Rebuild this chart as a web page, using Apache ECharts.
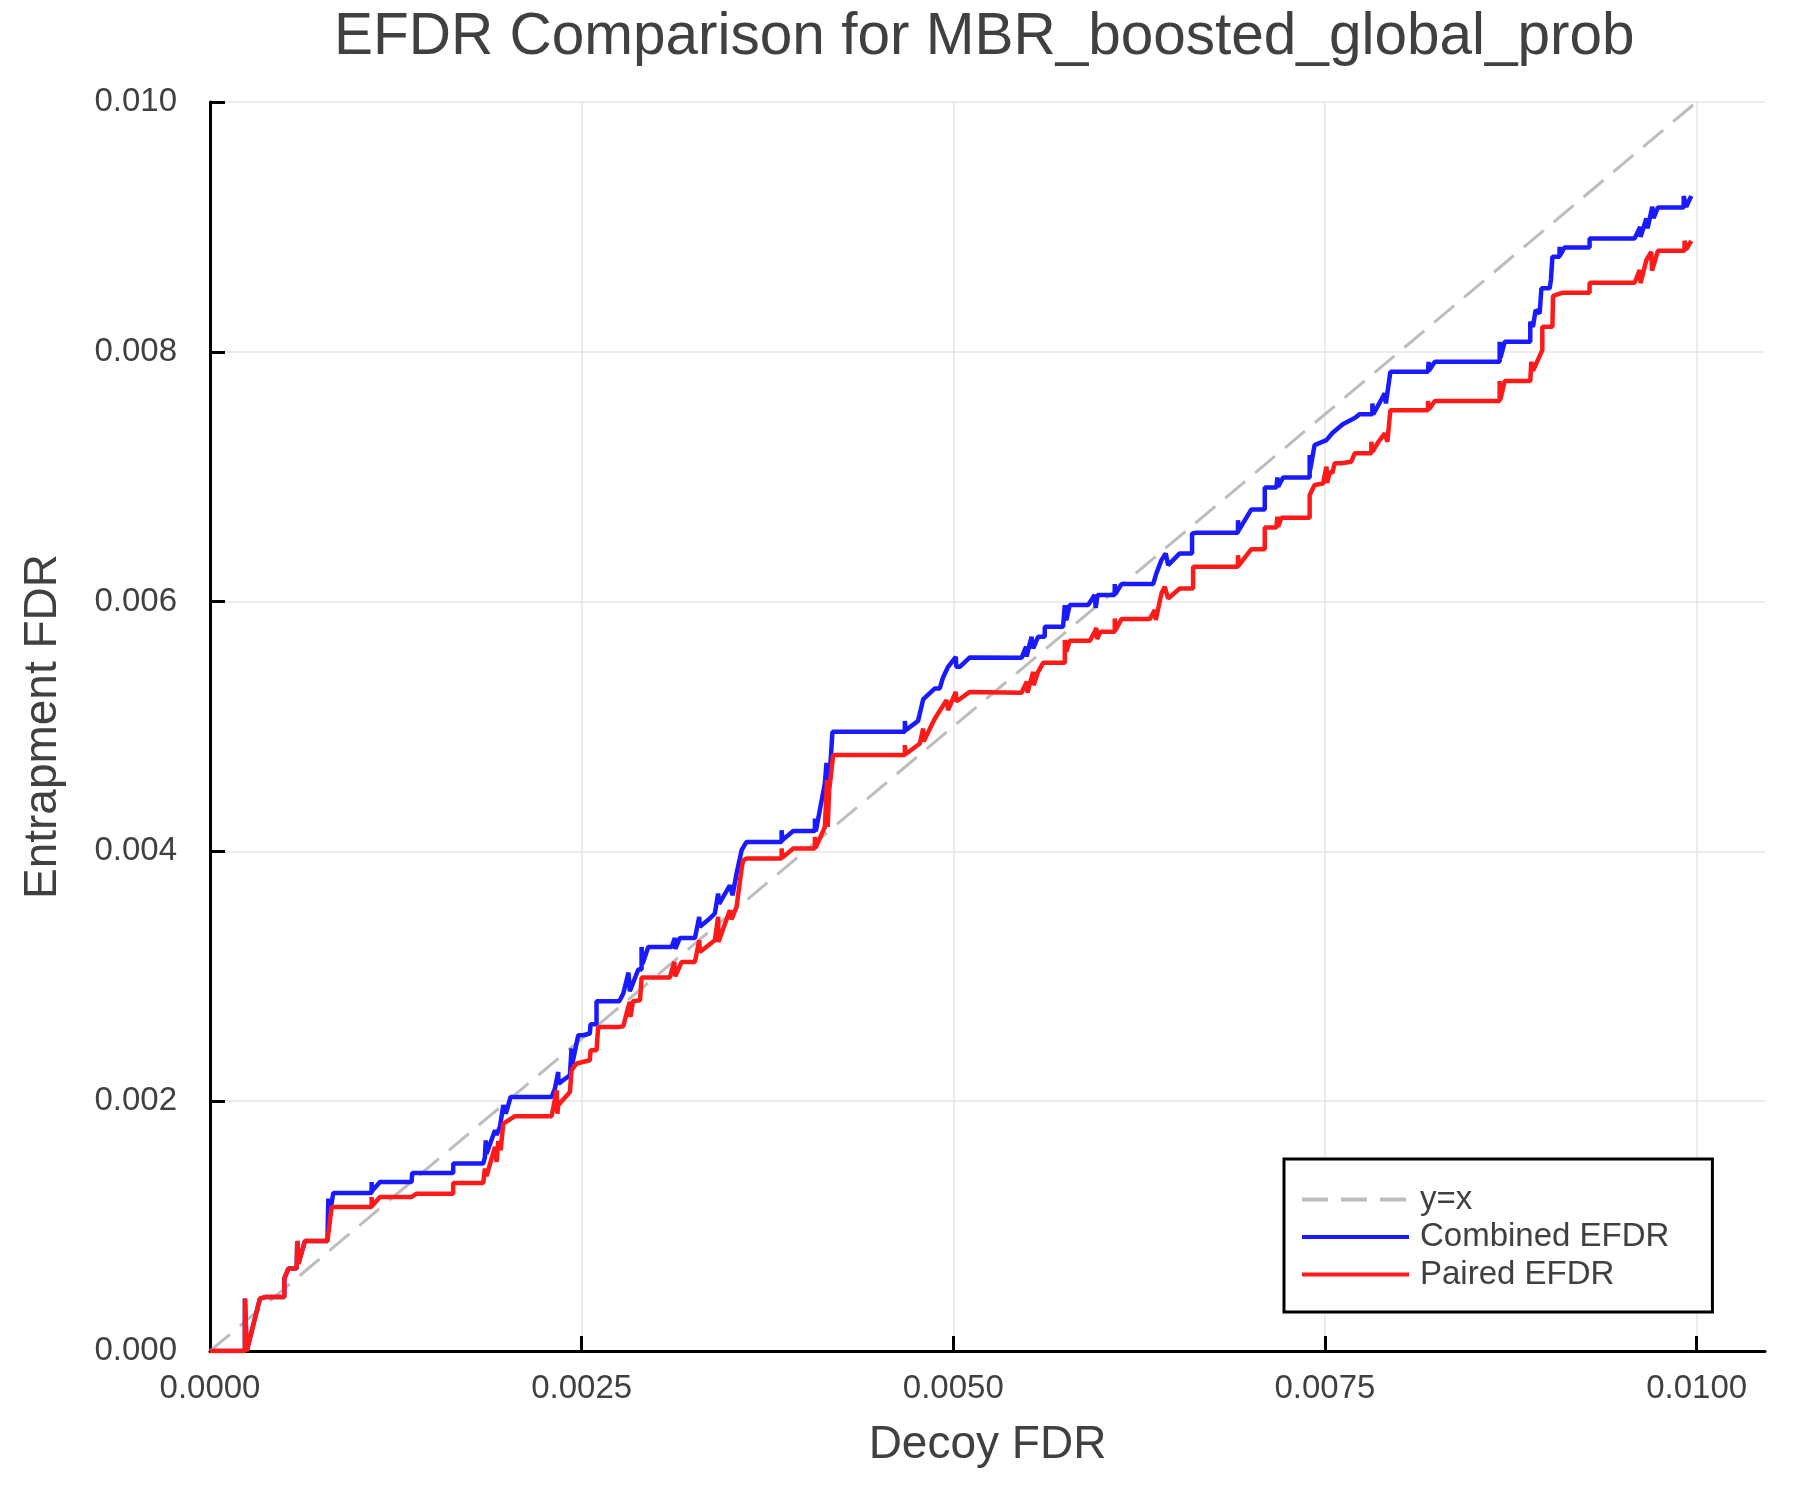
<!DOCTYPE html>
<html>
<head>
<meta charset="utf-8">
<script src="https://cdn.jsdelivr.net/npm/echarts@6.0.0/dist/echarts.min.js"></script>
<style>
  html, body { margin: 0; padding: 0; background: #fff; }
  #main { width: 1800px; height: 1500px; }
</style>
</head>
<body>
<div id="main"></div>
<script>
// values, in units of 1e-3 (x = decoy FDR, y = entrapment FDR)
var combinedX = [0, 0.235, 0.235, 0.247, 0.336, 0.37, 0.50, 0.50, 0.527, 0.583,
  0.587, 0.595, 0.639, 0.79, 0.796, 0.80, 0.829, 1.087, 1.087, 1.09,
  1.143, 1.356, 1.36, 1.39, 1.636, 1.636, 1.838, 1.849, 1.855, 1.86,
  1.917, 1.928, 1.95, 1.973, 1.99, 2.022, 2.298, 2.32, 2.342, 2.345,
  2.421, 2.432, 2.437, 2.477, 2.511, 2.555, 2.56, 2.60, 2.60, 2.753,
  2.78, 2.815, 2.824, 2.881, 2.903, 2.903, 2.91, 2.948, 3.105, 3.127,
  3.13, 3.161, 3.262, 3.291, 3.295, 3.362, 3.396, 3.418, 3.425, 3.497,
  3.515, 3.542, 3.576, 3.609, 3.845, 3.845, 3.85, 3.923, 4.069, 4.069,
  4.075, 4.136, 4.147, 4.165, 4.187, 4.674, 4.674, 4.68, 4.763, 4.797,
  4.876, 4.909, 4.931, 4.965, 5.017, 5.02, 5.044, 5.111, 5.459, 5.49,
  5.493, 5.526, 5.537, 5.57, 5.615, 5.615, 5.738, 5.75, 5.76, 5.783,
  5.907, 5.951, 5.958, 5.97, 6.086, 6.086, 6.09, 6.131, 6.344, 6.366,
  6.40, 6.429, 6.445, 6.523, 6.606, 6.606, 6.635, 6.915, 6.915, 6.92,
  7.005, 7.095, 7.095, 7.173, 7.18, 7.185, 7.218, 7.397, 7.397, 7.40,
  7.43, 7.51, 7.55, 7.62, 7.70, 7.734, 7.819, 7.819, 7.825, 7.902,
  7.91, 7.94, 8.193, 8.197, 8.20, 8.239, 8.675, 8.675, 8.68, 8.709,
  8.881, 8.881, 8.899, 8.917, 8.944, 8.956, 9.011, 9.02, 9.03, 9.078,
  9.078, 9.08, 9.112, 9.28, 9.28, 9.583, 9.62, 9.623, 9.662, 9.67,
  9.702, 9.71, 9.74, 9.913, 9.913, 9.93, 9.964];
var combinedY = [0, 0, 0.42, 0, 0.42, 0.432, 0.432, 0.58, 0.66, 0.66,
  0.881, 0.70, 0.881, 0.881, 1.22, 1.05, 1.265, 1.265, 1.353, 1.28,
  1.353, 1.353, 1.426, 1.426, 1.426, 1.501, 1.501, 1.55, 1.687, 1.58,
  1.767, 1.73, 1.794, 1.968, 1.90, 2.034, 2.034, 2.101, 2.234, 2.141,
  2.208, 2.422, 2.30, 2.528, 2.528, 2.542, 2.616, 2.616, 2.80, 2.80,
  2.862, 3.03, 2.88, 3.054, 3.054, 3.235, 3.10, 3.235, 3.235, 3.307,
  3.22, 3.307, 3.307, 3.476, 3.396, 3.463, 3.503, 3.663, 3.58, 3.729,
  3.649, 3.823, 4.01, 4.076, 4.076, 4.17, 4.09, 4.164, 4.164, 4.263,
  4.16, 4.544, 4.709, 4.544, 4.957, 4.957, 5.045, 4.97, 5.045, 5.217,
  5.305, 5.305, 5.393, 5.478, 5.558, 5.478, 5.478, 5.553, 5.55, 5.64,
  5.56, 5.718, 5.625, 5.718, 5.718, 5.798, 5.798, 5.972, 5.85, 5.972,
  5.972, 6.052, 5.95, 6.052, 6.052, 6.14, 6.06, 6.14, 6.14, 6.226,
  6.332, 6.386, 6.292, 6.386, 6.386, 6.546, 6.551, 6.551, 6.652, 6.57,
  6.738, 6.738, 6.914, 6.914, 6.994, 6.92, 6.994, 6.994, 7.173, 7.05,
  7.253, 7.293, 7.35, 7.42, 7.47, 7.501, 7.501, 7.587, 7.50, 7.667,
  7.587, 7.84, 7.84, 7.92, 7.85, 7.92, 7.92, 8.08, 7.95, 8.08,
  8.08, 8.24, 8.20, 8.334, 8.307, 8.508, 8.508, 8.575, 8.761, 8.761,
  8.841, 8.77, 8.836, 8.836, 8.908, 8.908, 9.0, 8.92, 9.068, 8.99,
  9.161, 9.07, 9.156, 9.156, 9.247, 9.16, 9.247];

var pairedX = [0, 0.235, 0.235, 0.247, 0.336, 0.37, 0.50, 0.50, 0.527, 0.583,
  0.587, 0.595, 0.639, 0.79, 0.818, 1.087, 1.087, 1.09, 1.143, 1.356,
  1.39, 1.636, 1.636, 1.838, 1.849, 1.86, 1.917, 1.928, 1.939, 1.955,
  1.973, 2.051, 2.298, 2.332, 2.337, 2.342, 2.421, 2.432, 2.466, 2.477,
  2.555, 2.56, 2.60, 2.611, 2.753, 2.78, 2.81, 2.824, 2.828, 2.845,
  2.893, 2.903, 2.948, 3.093, 3.123, 3.13, 3.172, 3.262, 3.291, 3.295,
  3.396, 3.418, 3.42, 3.497, 3.508, 3.542, 3.576, 3.587, 3.609, 3.845,
  3.845, 3.85, 3.923, 4.069, 4.069, 4.075, 4.136, 4.151, 4.155, 4.165,
  4.192, 4.674, 4.674, 4.68, 4.775, 4.797, 4.80, 4.876, 4.954, 4.965,
  4.988, 5.017, 5.02, 5.111, 5.459, 5.495, 5.499, 5.537, 5.54, 5.57,
  5.604, 5.75, 5.75, 5.76, 5.783, 5.918, 5.951, 5.962, 5.967, 5.99,
  6.086, 6.086, 6.09, 6.131, 6.321, 6.355, 6.362, 6.40, 6.422, 6.445,
  6.523, 6.613, 6.613, 6.646, 6.915, 6.915, 6.92, 7.005, 7.095, 7.095,
  7.173, 7.18, 7.185, 7.207, 7.397, 7.397, 7.43, 7.487, 7.51, 7.515,
  7.532, 7.55, 7.565, 7.61, 7.677, 7.70, 7.812, 7.812, 7.82, 7.86,
  7.902, 7.92, 7.94, 8.193, 8.193, 8.20, 8.239, 8.675, 8.675, 8.68,
  8.709, 8.881, 8.888, 8.90, 8.962, 8.962, 9.03, 9.034, 9.10, 9.28,
  9.28, 9.583, 9.617, 9.623, 9.662, 9.695, 9.70, 9.74, 9.919, 9.919,
  9.93, 9.964];
var pairedY = [0, 0, 0.42, 0, 0.42, 0.432, 0.432, 0.58, 0.66, 0.66,
  0.881, 0.70, 0.881, 0.881, 1.153, 1.153, 1.233, 1.16, 1.233, 1.233,
  1.26, 1.26, 1.345, 1.345, 1.461, 1.40, 1.634, 1.514, 1.68, 1.607,
  1.821, 1.88, 1.88, 2.088, 1.90, 1.968, 2.074, 2.248, 2.302, 2.314,
  2.328, 2.408, 2.408, 2.595, 2.595, 2.60, 2.74, 2.795, 2.675, 2.80,
  2.809, 2.99, 2.99, 2.99, 3.115, 3.0, 3.115, 3.115, 3.289, 3.195,
  3.289, 3.476, 3.275, 3.529, 3.455, 3.556, 3.863, 3.93, 3.943, 3.943,
  4.023, 3.95, 4.023, 4.023, 4.116, 4.03, 4.196, 4.57, 4.196, 4.49,
  4.771, 4.771, 4.851, 4.78, 4.864, 4.984, 4.88, 5.064, 5.211, 5.131,
  5.197, 5.277, 5.20, 5.277, 5.27, 5.36, 5.27, 5.438, 5.33, 5.438,
  5.51, 5.51, 5.692, 5.60, 5.686, 5.686, 5.758, 5.79, 5.70, 5.758,
  5.758, 5.865, 5.77, 5.86, 5.86, 5.932, 5.852, 6.066, 6.118, 6.025,
  6.105, 6.105, 6.279, 6.279, 6.279, 6.372, 6.29, 6.42, 6.42, 6.594,
  6.594, 6.68, 6.60, 6.671, 6.671, 6.853, 6.933, 6.946, 7.08, 6.95,
  7.04, 7.03, 7.107, 7.107, 7.12, 7.187, 7.187, 7.28, 7.20, 7.28,
  7.347, 7.28, 7.533, 7.533, 7.606, 7.54, 7.606, 7.606, 7.766, 7.62,
  7.766, 7.766, 7.92, 7.85, 8.014, 8.20, 8.20, 8.447, 8.473, 8.473,
  8.553, 8.553, 8.655, 8.55, 8.735, 8.80, 8.65, 8.81, 8.81, 8.889,
  8.82, 8.889];

var diagX = [0, 10];
var diagY = [0, 10];

var xTicks = [0, 0.0025, 0.005, 0.0075, 0.01];

function toPoints(xs, ys) {
    var pts = [];
    for (var i = 0; i < xs.length; i++) {
        pts.push([xs[i] / 1000, ys[i] / 1000]);
    }
    return pts;
}

var font = 'Liberation Sans';
var textColor = '#404040';

var myChart = echarts.init(document.getElementById('main'), null, { renderer: 'canvas' });

var option = {
    backgroundColor: '#ffffff',
    animation: false,
    title: {
        text: 'EFDR Comparison for MBR_boosted_global_prob',
        left: 334,
        top: 8,
        padding: 0,
        textStyle: { fontFamily: font, fontSize: 58.5, fontWeight: 'normal', color: textColor }
    },
    grid: {
        left: 210,
        right: 35,
        top: 102,
        bottom: 149,
        containLabel: false,
        outerBoundsMode: 'none'
    },
    legend: {
        orient: 'vertical',
        left: 1284,
        top: 1159,
        padding: [24, 43, 21, 16],
        itemGap: 4.5,
        itemWidth: 107,
        itemHeight: 20,
        backgroundColor: '#ffffff',
        borderColor: '#000000',
        borderWidth: 3,
        borderRadius: 0,
        lineStyle: { width: 4 },
        itemStyle: { opacity: 0 },
        textStyle: { fontFamily: font, fontSize: 33, lineHeight: 33, color: textColor, padding: [0, 0, 0, 6] },
        data: ['y=x', 'Combined EFDR', 'Paired EFDR']
    },
    xAxis: {
        type: 'value',
        min: 0,
        max: 0.01046,
        interval: 0.0025,
        name: 'Decoy FDR',
        nameLocation: 'middle',
        nameGap: 71,
        nameTextStyle: { fontFamily: font, fontSize: 46, color: textColor },
        axisLine: { show: true, lineStyle: { color: '#000', width: 3 } },
        axisTick: { show: true, inside: true, length: 15, lineStyle: { color: '#000', width: 3 }, customValues: xTicks },
        axisLabel: {
            fontFamily: font, fontSize: 33, color: textColor, margin: 21,
            customValues: xTicks,
            formatter: function (v) { return v.toFixed(4); }
        },
        splitLine: { show: true, lineStyle: { color: '#e6e6e6', width: 1.5 } }
    },
    yAxis: {
        type: 'value',
        min: 0,
        max: 0.01,
        interval: 0.002,
        name: 'Entrapment FDR',
        nameLocation: 'middle',
        nameGap: 144,
        nameTextStyle: { fontFamily: font, fontSize: 46, color: textColor },
        axisLine: { show: true, lineStyle: { color: '#000', width: 3 } },
        axisTick: { show: true, inside: true, length: 15, lineStyle: { color: '#000', width: 3 } },
        axisLabel: {
            fontFamily: font, fontSize: 33, color: textColor, margin: 33,
            formatter: function (v) { return v.toFixed(3); }
        },
        splitLine: { show: true, lineStyle: { color: '#e6e6e6', width: 1.5 } }
    },
    series: [
        {
            name: 'y=x',
            type: 'line',
            symbol: 'none',
            symbolSize: 0,
            data: toPoints(diagX, diagY),
            lineStyle: { color: '#bdbdbd', width: 3, type: [26, 13] },
            itemStyle: { color: '#bdbdbd' },
            z: 1
        },
        {
            name: 'Combined EFDR',
            type: 'line',
            symbol: 'none',
            symbolSize: 0,
            data: toPoints(combinedX, combinedY),
            lineStyle: { color: '#1a1aff', width: 4.5 },
            itemStyle: { color: '#1a1aff' },
            z: 2
        },
        {
            name: 'Paired EFDR',
            type: 'line',
            symbol: 'none',
            symbolSize: 0,
            data: toPoints(pairedX, pairedY),
            lineStyle: { color: '#ff1a1a', width: 4.5 },
            itemStyle: { color: '#ff1a1a' },
            z: 3
        }
    ]
};

myChart.setOption(option);
</script>
</body>
</html>
